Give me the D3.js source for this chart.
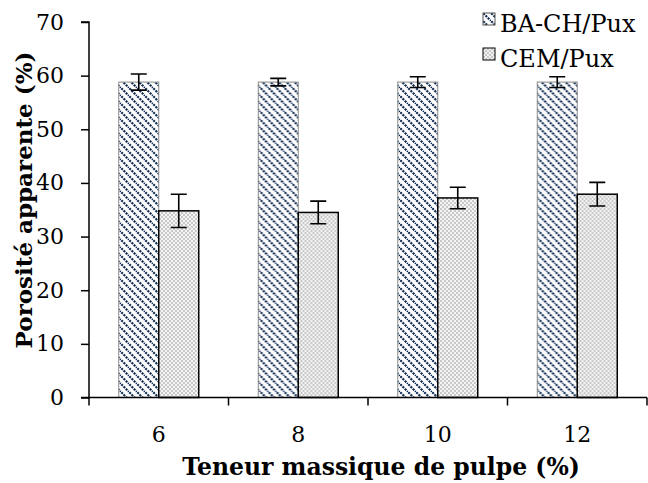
<!DOCTYPE html>
<html><head><meta charset="utf-8">
<script src="https://cdn.jsdelivr.net/npm/d3@7"></script>
<style>body{margin:0;background:#fff}svg{display:block}</style>
</head><body>
<svg id="c" width="648" height="483"></svg>
<script>
const categories = ["6", "8", "10", "12"];
const seriesNames = ["BA-CH/Pux", "CEM/Pux"];
const baValues = [58.8, 58.8, 58.8, 58.8];
const baErrors = [1.5, 0.7, 1.0, 1.0];
const cemValues = [34.8, 34.5, 37.2, 37.9];
const cemErrors = [3.1, 2.1, 2.0, 2.2];
const yTicks = [0, 10, 20, 30, 40, 50, 60, 70];
const xTitle = "Teneur massique de pulpe (%)";
const yTitle = "Porosité apparente (%)";

const FONT = "'DejaVu Serif', serif";
const svg = d3.select("#c");
const L = 89, R = 647, T = 22, B = 397.5;

const x = d3.scaleBand().domain(categories).range([L, R]).padding(0);
const bw = x.bandwidth();
const barW = 40;
const pOuter = (bw / barW - 2) / 2;
const x1 = d3.scaleBand().domain(seriesNames).range([0, bw]).paddingInner(0).paddingOuter(pOuter);
const y = d3.scaleLinear().domain([0, 70]).range([B, T]);

const defs = svg.append("defs");
const p1 = defs.append("pattern").attr("id", "hatch").attr("patternUnits", "userSpaceOnUse")
  .attr("width", 8).attr("height", 8);
p1.append("rect").attr("width", 8).attr("height", 8).attr("fill", "#fff");
p1.append("path").attr("d", "M-2,-2L10,10M-2,6L2,10M6,-2L10,2")
  .attr("stroke", "#112e52").attr("stroke-width", 2.2).attr("stroke-dasharray", "2.2,1");
const p2 = defs.append("pattern").attr("id", "check").attr("patternUnits", "userSpaceOnUse")
  .attr("width", 4).attr("height", 4);
p2.append("rect").attr("width", 4).attr("height", 4).attr("fill", "#f4f4f4");
p2.append("rect").attr("width", 2).attr("height", 2).attr("fill", "#c8c8c8");
p2.append("rect").attr("x", 2).attr("y", 2).attr("width", 2).attr("height", 2).attr("fill", "#c8c8c8");

const data = categories.map((c, i) => ({c, vals: [
  {s: seriesNames[0], v: baValues[i], e: baErrors[i]},
  {s: seriesNames[1], v: cemValues[i], e: cemErrors[i]}
]}));

const g = svg.append("g");
const groups = g.selectAll("g.cat").data(data).join("g").attr("transform", d => `translate(${x(d.c)},0)`);
groups.selectAll("rect").data(d => d.vals).join("rect")
  .attr("x", d => x1(d.s)).attr("width", x1.bandwidth())
  .attr("y", d => y(d.v)).attr("height", d => y(0) - y(d.v))
  .attr("fill", d => d.s === seriesNames[0] ? "url(#hatch)" : "url(#check)")
  .attr("stroke", d => d.s === seriesNames[0] ? "#8a8a8a" : "#000")
  .attr("stroke-width", d => d.s === seriesNames[0] ? 1 : 1.5);

// error bars
groups.selectAll("path.err").data(d => d.vals).join("path").attr("class", "err")
  .attr("d", d => {
    const cx = x1(d.s) + x1.bandwidth() / 2;
    const y1 = y(d.v + d.e), y2 = y(d.v - d.e);
    return `M${cx - 8},${y1}H${cx + 8}M${cx},${y1}V${y2}M${cx - 8},${y2}H${cx + 8}`;
  })
  .attr("stroke", "#000").attr("stroke-width", 1.6).attr("fill", "none");

// y axis
const yAxis = svg.append("g").attr("transform", `translate(${L},0)`)
  .call(d3.axisLeft(y).tickValues(yTicks).tickSize(8).tickPadding(17));
yAxis.select(".domain").attr("stroke", "#000").attr("stroke-width", 1.5).attr("d", `M-8,${T}H0V${B}H-8`);
yAxis.selectAll(".tick line").attr("stroke", "#000").attr("stroke-width", 1.5);
yAxis.selectAll(".tick text").attr("font-family", FONT).attr("font-size", 22).attr("fill", "#000");

// x axis
const xAxis = svg.append("g").attr("transform", `translate(0,${B})`)
  .call(d3.axisBottom(x).tickSize(0).tickPadding(29));
xAxis.select(".domain").attr("stroke", "#000").attr("stroke-width", 1.5).attr("d", `M${L},0H${R}`);
xAxis.selectAll(".tick text").attr("font-family", FONT).attr("font-size", 22).attr("fill", "#000");
const bounds = categories.map(c => x(c)).concat([R]);
xAxis.selectAll("line.bt").data(bounds).join("line").attr("class", "bt")
  .attr("x1", d => d).attr("x2", d => d).attr("y1", 0).attr("y2", 8)
  .attr("stroke", "#000").attr("stroke-width", 1.5);

// titles
svg.append("text").attr("x", 381).attr("y", 475).attr("text-anchor", "middle")
  .attr("font-family", FONT).attr("font-weight", "bold").attr("font-size", 23.5).text(xTitle);
svg.append("text").attr("transform", `translate(32,200) rotate(-90)`).attr("text-anchor", "middle")
  .attr("font-family", FONT).attr("font-weight", "bold").attr("font-size", 23).text(yTitle);

// legend
const leg = svg.append("g").selectAll("g").data(seriesNames).join("g")
  .attr("transform", (d, i) => `translate(483,${13 + i * 35})`);
leg.append("rect").attr("width", 12).attr("height", 12)
  .attr("fill", (d, i) => i === 0 ? "url(#hatch)" : "url(#check)")
  .attr("stroke", (d, i) => i === 0 ? "#555" : "#000").attr("stroke-width", 1);
leg.append("text").attr("x", 17).attr("y", 19)
  .attr("font-family", FONT).attr("font-size", 24).text(d => d);
</script>
</body></html>
